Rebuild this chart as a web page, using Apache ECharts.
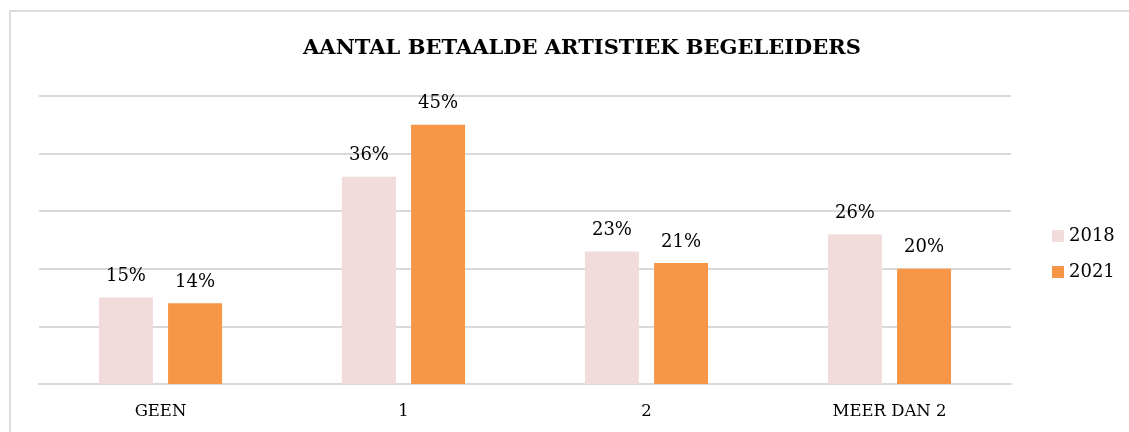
<!DOCTYPE html>
<html lang="en">
<head>
  <meta charset="UTF-8">
  <title>Aantal betaalde artistiek begeleiders</title>
  <style>
    html,
    body {
      padding: 0;
      margin: 0;
      background: #fff;
      overflow: hidden;
    }
    #demo {
      position: absolute;
      left: 0;
      top: 0;
      width: 1129px;
      height: 432px;
    }
    .rule {
      position: absolute;
      background: #dcdcdc;
      pointer-events: none;
    }
    #rule-top { left: 9px; top: 10px; width: 1120px; height: 2px; }
    #rule-left { left: 9px; top: 10px; width: 2px; height: 422px; }
  </style>
  <script src="https://cdn.jsdelivr.net/npm/echarts@6/dist/echarts.min.js"></script>
</head>
<body>
  <div id="demo"></div>
  <div class="rule" id="rule-top"></div>
  <div class="rule" id="rule-left"></div>
  <script>
    const categories = ['GEEN', '1', '2', 'MEER DAN 2']
    const values2018 = [15, 36, 23, 26]
    const values2021 = [14, 45, 21, 20]

    const font = 'DejaVu Serif'
    const chart = echarts.init(document.getElementById('demo'))

    const label = {
      show: true,
      position: 'top',
      distance: 12,
      formatter: p => p.value + '%',
      fontFamily: font,
      fontSize: 18,
      color: '#000'
    }

    const option = {
      animation: false,
      title: {
        text: 'AANTAL BETAALDE ARTISTIEK BEGELEIDERS',
        left: 577,
        textAlign: 'center',
        top: 33,
        textStyle: {
          fontFamily: font,
          fontWeight: 'bold',
          fontSize: 21,
          color: '#000'
        }
      },
      legend: {
        orient: 'vertical',
        left: 1047,
        top: 222,
        icon: 'rect',
        itemWidth: 12,
        itemHeight: 12,
        itemGap: 18,
        textStyle: {
          fontFamily: font,
          fontSize: 18,
          color: '#000'
        },
        data: ['2018', '2021']
      },
      grid: {
        left: 39,
        right: 118,
        top: 96,
        bottom: 48
      },
      xAxis: {
        type: 'category',
        data: categories,
        axisTick: { show: false },
        axisLine: { lineStyle: { color: '#d9d9d9', width: 2 } },
        axisLabel: {
          margin: 19,
          fontFamily: font,
          fontSize: 16.5,
          color: '#000'
        }
      },
      yAxis: {
        type: 'value',
        min: 0,
        max: 50,
        interval: 10,
        axisLabel: { show: false },
        axisLine: { show: false },
        axisTick: { show: false },
        splitLine: { lineStyle: { color: '#d9d9d9', width: 2 } }
      },
      series: [
        {
          name: '2018',
          type: 'bar',
          data: values2018,
          barWidth: 54,
          barGap: '28%',
          itemStyle: { color: '#F2DCDB' },
          label: label
        },
        {
          name: '2021',
          type: 'bar',
          data: values2021,
          barWidth: 54,
          itemStyle: { color: '#F79646' },
          label: label
        }
      ]
    }
    chart.setOption(option)
  </script>
</body>
</html>
